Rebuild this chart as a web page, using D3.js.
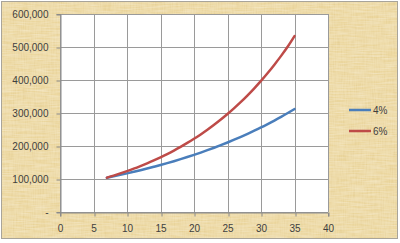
<!DOCTYPE html>
<html><head><meta charset="utf-8">
<script src="https://cdn.jsdelivr.net/npm/d3@7"></script>
<style>html,body{margin:0;padding:0;background:#fff;}svg{display:block;}</style>
</head><body>
<script>
const years = [7,8,9,10,11,12,13,14,15,16,17,18,19,20,21,22,23,24,25,26,27,28,29,30,31,32,33,34,35];
const rate4 = [104000,108200,112500,117000,121700,126500,131600,136900,142300,148000,153900,160100,166500,173200,180100,187300,194800,202600,210700,219100,227900,237000,246500,256300,266600,277200,288300,299900,311900];
const rate6 = [104000,110200,116900,123900,131300,139200,147500,156400,165800,175700,186200,197400,209300,221800,235100,249200,264200,280100,296800,314700,333500,353600,374800,397300,421100,446400,473100,501500,533000];
const seriesNames = ["4%","6%"];
const xTicks = [0,5,10,15,20,25,30,35,40];
const yTicks = [0,100000,200000,300000,400000,500000,600000];
const colors = ["#4A7EBB","#BE4B48"];

const W=400,H=243;
const svg=d3.select("body").append("svg").attr("width",W).attr("height",H);
const defs=svg.append("defs");
const f=defs.append("filter").attr("id","paper").attr("x",0).attr("y",0).attr("width","100%").attr("height","100%");
f.append("feTurbulence").attr("type","fractalNoise").attr("baseFrequency","0.9 0.08").attr("numOctaves",2).attr("seed",3).attr("result","n1");
f.append("feColorMatrix").attr("in","n1").attr("type","matrix")
 .attr("values","0 0 0 0 0.72  0 0 0 0 0.55  0 0 0 0 0.22  0.8 0 0 0 -0.28").attr("result","c1");
f.append("feTurbulence").attr("type","fractalNoise").attr("baseFrequency","0.06 0.7").attr("numOctaves",2).attr("seed",7).attr("result","n2");
f.append("feColorMatrix").attr("in","n2").attr("type","matrix")
 .attr("values","0 0 0 0 1  0 0 0 0 0.96  0 0 0 0 0.82  0.6 0 0 0 -0.18").attr("result","c2");
f.append("feMerge").call(m=>{m.append("feMergeNode").attr("in","SourceGraphic");m.append("feMergeNode").attr("in","c1");m.append("feMergeNode").attr("in","c2");});

svg.append("rect").attr("x",1).attr("y",1).attr("width",397).attr("height",238)
 .attr("fill","#EDD9A3").attr("filter","url(#paper)");
svg.append("rect").attr("x",1.5).attr("y",1.5).attr("width",396).attr("height",237)
 .attr("fill","none").attr("stroke","#A8A49A").attr("stroke-width",1);

const m={l:60,t:14,r:328,b:212};
const x=d3.scaleLinear().domain([0,40]).range([m.l,m.r]);
const y=d3.scaleLinear().domain([0,600000]).range([m.b,m.t]);

svg.append("rect").attr("x",m.l).attr("y",m.t).attr("width",m.r-m.l).attr("height",m.b-m.t).attr("fill","#fff");

const g=svg.append("g");
g.selectAll(".vg").data(xTicks).join("line").attr("x1",d=>Math.round(x(d))+0.5).attr("x2",d=>Math.round(x(d))+0.5)
 .attr("y1",m.t).attr("y2",m.b).attr("stroke","#9A9A9A").attr("stroke-width",1);
g.selectAll(".hg").data(yTicks).join("line").attr("y1",d=>Math.round(y(d))+0.5).attr("y2",d=>Math.round(y(d))+0.5)
 .attr("x1",m.l).attr("x2",m.r).attr("stroke","#9A9A9A").attr("stroke-width",1);

const fmt=d=>d===0?"-":d3.format(",")(d);
const xa=svg.append("g").attr("transform",`translate(0,${Math.round(y(0))+0.5})`)
 .call(d3.axisBottom(x).tickValues(xTicks).tickSize(4).tickPadding(8));
const ya=svg.append("g").attr("transform",`translate(${m.l+0.5},0)`)
 .call(d3.axisLeft(y).tickValues(yTicks).tickFormat(fmt).tickSize(4).tickPadding(8));
[xa,ya].forEach(a=>{
  a.select(".domain").attr("stroke","#8A8A8A");
  a.selectAll(".tick line").attr("stroke","#8A8A8A");
  a.selectAll("text").attr("fill","#404040").style("font-family","'Liberation Sans',Arial,sans-serif").style("font-size","10px");
});
xa.selectAll(".tick line").attr("transform",d=>`translate(${Math.round(x(d))+0.5-x(d)},0)`);
ya.selectAll(".tick line").attr("transform",d=>`translate(0,${Math.round(y(d))+0.5-y(d)})`);

const line=d3.line().x((d,i)=>x(years[i])).y(d=>y(d)).curve(d3.curveMonotoneX);
[rate4,rate6].forEach((s,i)=>{
  svg.append("path").datum(s).attr("d",line).attr("fill","none").attr("stroke",colors[i]).attr("stroke-width",2.5).attr("stroke-linecap","round");
});

const lg=svg.append("g");
seriesNames.forEach((n,i)=>{
  const yy=110+i*21;
  lg.append("line").attr("x1",349).attr("x2",371).attr("y1",yy).attr("y2",yy).attr("stroke",colors[i]).attr("stroke-width",2.5);
  lg.append("text").attr("x",373).attr("y",yy+3.5).text(n).attr("fill","#404040")
   .style("font-family","'Liberation Sans',Arial,sans-serif").style("font-size","10px");
});
</script>
</body></html>
